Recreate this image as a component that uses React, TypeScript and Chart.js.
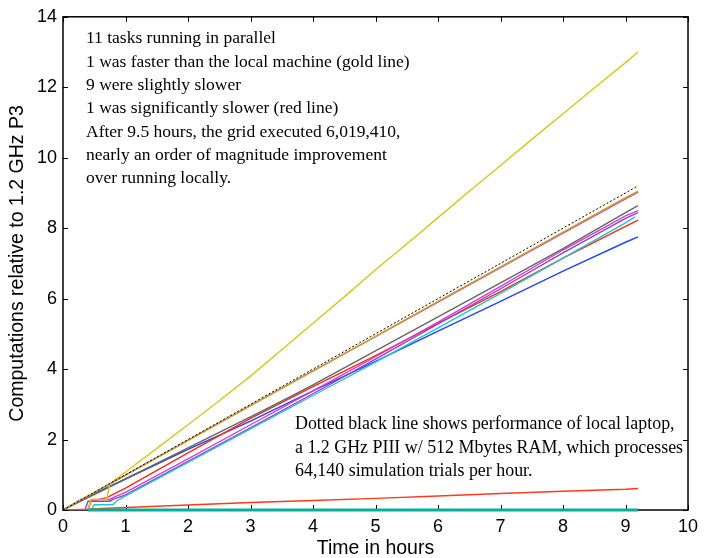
import React, { useEffect, useRef } from 'react';
import { Chart, registerables } from 'chart.js';

Chart.register(...registerables);

// ---- data (hours, computations relative to 1.2 GHz P3) ----
const fastT = [0, 0.4, 0.45, 0.7, 0.75, 1, 1.5, 2, 2.5, 3, 3.5, 4, 4.5, 5, 5.5, 6, 6.5, 7, 7.5, 8, 8.5, 9, 9.2];
const fastV = [0, 0, 0.3, 0.3, 0.75, 1.08, 1.75, 2.42, 3.1, 3.8, 4.55, 5.3, 6.05, 6.82, 7.55, 8.3, 9.05, 9.78, 10.52, 11.25, 11.98, 12.7, 13.0];

const localT = [0, 9.2];
const localV = [0, 9.2];

const oliveT = [0, 1, 2, 3, 4, 5, 6, 7, 8, 9, 9.2];
const oliveV = [0, 0.99, 1.97, 2.96, 3.94, 4.93, 5.92, 6.9, 7.89, 8.87, 9.05];

const magUpT = [0, 1, 2, 3, 4, 5, 6, 7, 8, 9, 9.2];
const magUpV = [0, 0.99, 1.98, 2.96, 3.95, 4.92, 5.9, 6.88, 7.86, 8.83, 9.02];

const grayT = [0, 1, 2, 3, 3.6, 4, 5, 6, 7, 8, 9, 9.2];
const grayV = [0, 0.88, 1.76, 2.64, 3.18, 3.55, 4.52, 5.48, 6.45, 7.42, 8.44, 8.64];

const magT = [0, 0.4, 0.45, 0.75, 0.8, 1, 2, 3, 4, 5, 6, 7, 8, 9, 9.2];
const magV = [0, 0, 0.3, 0.3, 0.35, 0.5, 1.45, 2.42, 3.38, 4.35, 5.33, 6.35, 7.38, 8.35, 8.5];

const purT = [0, 0.35, 0.4, 0.75, 0.8, 1, 2, 3, 4, 5, 6, 7, 8, 9, 9.2];
const purV = [0, 0, 0.25, 0.25, 0.3, 0.43, 1.38, 2.33, 3.3, 4.28, 5.28, 6.28, 7.3, 8.28, 8.44];

const cyanT = [0, 0.45, 0.5, 0.8, 0.85, 1, 2, 3, 4, 5, 6, 7, 8, 9, 9.15];
const cyanV = [0, 0, 0.15, 0.15, 0.25, 0.4, 1.35, 2.3, 3.25, 4.2, 5.17, 6.15, 7.15, 8.15, 8.32];

const redT = [0, 0.4, 0.45, 0.7, 1, 2, 3, 4, 5, 6, 7, 8, 9, 9.2];
const redV = [0, 0.02, 0.25, 0.35, 0.62, 1.62, 2.6, 3.5, 4.38, 5.3, 6.2, 7.15, 8.05, 8.23];

const blueT = [0, 0.3, 0.6, 1, 2, 3, 4, 5, 6, 7, 8, 9, 9.2];
const blueV = [0, 0.3, 0.55, 0.88, 1.72, 2.52, 3.38, 4.22, 5.08, 5.92, 6.78, 7.6, 7.75];

const slowT = [0, 0.4, 0.45, 1, 2, 3, 4, 5, 6, 7, 8, 9, 9.2];
const slowV = [0, 0, 0.03, 0.07, 0.14, 0.21, 0.27, 0.33, 0.4, 0.47, 0.53, 0.59, 0.61];

const tealT = [0.4, 9.2];
const tealV = [0, 0];

const topNotes = [
  '11 tasks running in parallel',
  '1 was faster than the local machine (gold line)',
  '9 were slightly slower',
  '1 was significantly slower (red line)',
  'After 9.5 hours, the grid executed 6,019,410,',
  'nearly an order of magnitude improvement',
  'over running locally.',
];
const bottomNotes = [
  'Dotted black line shows performance of local laptop,',
  'a 1.2 GHz PIII w/ 512 Mbytes RAM, which processes',
  '64,140 simulation trials per hour.',
];
const xTitle = 'Time in hours';
const yTitle = 'Computations relative to 1.2 GHz P3';

const pts = (t: number[], v: number[]) => t.map((x, i) => ({ x, y: v[i] }));

const framePlugin = {
  id: 'frameTicks',
  beforeDatasetsDraw(chart: any) {
    const { ctx, chartArea: a, scales } = chart;
    ctx.save();
    ctx.strokeStyle = '#000';
    ctx.lineWidth = 1.5;
    ctx.strokeRect(a.left, a.top, a.right - a.left, a.bottom - a.top);
    ctx.lineWidth = 1;
    const tl = 5;
    ctx.beginPath();
    scales.x.ticks.forEach((t: any) => {
      const px = Math.round(scales.x.getPixelForValue(t.value)) + 0.5;
      ctx.moveTo(px, a.bottom);
      ctx.lineTo(px, a.bottom - tl);
      ctx.moveTo(px, a.top);
      ctx.lineTo(px, a.top + tl);
    });
    scales.y.ticks.forEach((t: any) => {
      const py = Math.round(scales.y.getPixelForValue(t.value)) + 0.5;
      ctx.moveTo(a.left, py);
      ctx.lineTo(a.left + tl, py);
      ctx.moveTo(a.right, py);
      ctx.lineTo(a.right - tl, py);
    });
    ctx.stroke();
    ctx.restore();
  },
  afterDraw(chart: any) {
    const { ctx, chartArea: a } = chart;
    ctx.save();
    ctx.fillStyle = '#000';
    ctx.textAlign = 'left';
    ctx.textBaseline = 'alphabetic';
    ctx.font = '17.5px "Liberation Serif", "Times New Roman", serif';
    topNotes.forEach((s, i) => ctx.fillText(s, a.left + 23, a.top + 26.5 + i * 23.33));
    ctx.font = '17.9px "Liberation Serif", "Times New Roman", serif';
    bottomNotes.forEach((s, i) => ctx.fillText(s, a.left + 232, a.bottom - 81 + i * 23.5));
    ctx.restore();
  },
};

export default function App() {
  const ref = useRef<HTMLCanvasElement>(null);
  useEffect(() => {
    if (!ref.current) return;
    const line = (t: number[], v: number[], color: string, extra: any = {}) => ({
      data: pts(t, v),
      borderColor: color,
      backgroundColor: color,
      borderWidth: 1.4,
      pointRadius: 0,
      fill: false,
      tension: 0,
      ...extra,
    });
    const chart = new Chart(ref.current, {
      type: 'line',
      data: {
        datasets: [
          line(localT, localV, '#000000', { borderDash: [2, 2], borderWidth: 1 }),
          line(tealT, tealV, '#00b09c', { borderWidth: 3, clip: 4 }),
          line(slowT, slowV, '#ff3a1c', { borderWidth: 1.5 }),
          line(oliveT, oliveV, '#c8a818'),
          line(magUpT, magUpV, '#cc44cc'),
          line(fastT, fastV, '#d4c81c'),
          line(grayT, grayV, '#666666'),
          line(magT, magV, '#d040d8'),
          line(cyanT, cyanV, '#22c4d4'),
          line(purT, purV, '#9a3ed0'),
          line(redT, redV, '#ff2a10'),
          line(blueT, blueV, '#2244ff'),
        ],
      },
      options: {
        animation: false,
        responsive: false,
        devicePixelRatio: 1,
        parsing: true,
        layout: { padding: { left: 0, right: 17, top: 15, bottom: 0 } },
        plugins: { legend: { display: false }, tooltip: { enabled: false }, title: { display: false } },
        scales: {
          x: {
            type: 'linear',
            min: 0,
            max: 10,
            grid: { display: false, drawTicks: false },
            border: { display: false },
            ticks: {
              stepSize: 1,
              padding: 6,
              color: '#000',
              maxRotation: 0,
              font: { family: '"Liberation Sans", Arial, sans-serif', size: 18 },
            },
            title: {
              display: true,
              text: xTitle,
              color: '#000',
              padding: { top: 0, bottom: 0 },
              font: { family: '"Liberation Sans", Arial, sans-serif', size: 19.5, lineHeight: 1 },
            },
            afterFit: (s: any) => { s.height = 48; },
          },
          y: {
            type: 'linear',
            min: 0,
            max: 14,
            grid: { display: false, drawTicks: false },
            border: { display: false },
            ticks: {
              stepSize: 2,
              padding: 6,
              color: '#000',
              font: { family: '"Liberation Sans", Arial, sans-serif', size: 18 },
            },
            title: {
              display: true,
              text: yTitle,
              color: '#000',
              padding: { top: 8, bottom: 0 },
              font: { family: '"Liberation Sans", Arial, sans-serif', size: 19.5, lineHeight: 1 },
            },
            afterFit: (s: any) => { s.width = 63; },
          },
        },
      },
      plugins: [framePlugin],
    });
    return () => chart.destroy();
  }, []);
  return (
    <div style={{ position: 'fixed', left: 0, top: 0, width: 705, height: 558, background: '#fff' }}>
      <canvas ref={ref} width={705} height={558} style={{ width: 705, height: 558, display: 'block' }} />
    </div>
  );
}
